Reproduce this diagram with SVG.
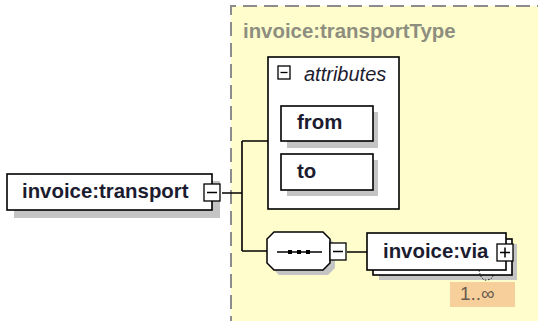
<svg xmlns="http://www.w3.org/2000/svg" width="538" height="321" viewBox="0 0 538 321">
<style>
.box{fill:#fff;stroke:#000;stroke-width:1.6}
.shadow{fill:#c4c4c4}
.lbl{font-family:"Liberation Sans",Arial,sans-serif;font-weight:bold;font-size:20.4px;fill:#1c1c30}
.icon{fill:#fff;stroke:#000;stroke-width:1.3}
.conn{fill:none;stroke:#000;stroke-width:1.6}
</style>
<rect x="231" y="6" width="320" height="330" fill="#fefdcb"/>
<path d="M231 330 V6 H540" fill="none" stroke="#8c8c8c" stroke-width="2" stroke-dasharray="14 7"/>
<text x="243" y="38" font-family="'Liberation Sans',Arial,sans-serif" font-weight="bold" font-size="20.4px" fill="#8e8e80">invoice:transportType</text>

<g id="connectors">
<path class="conn" d="M222 193 H242 M242 141 V251 M242 141 H268 M242 251 H268 M347 252 H367"/>
</g>

<g id="node-transport">
<rect class="shadow" x="14" y="181" width="206" height="37"/>
<rect class="box" x="7" y="174" width="205" height="36"/>
<text class="lbl" x="22" y="198">invoice:transport</text>
<rect class="icon" x="204" y="184" width="16" height="17"/>
<path d="M207 192.5 H217" stroke="#000" stroke-width="1.5"/>
</g>

<g id="node-attributes">
<rect class="box" x="268" y="57" width="131" height="152"/>
<rect class="icon" x="278" y="66" width="12" height="13"/>
<path d="M280.5 72.5 H287.5" stroke="#000" stroke-width="1.3"/>
<text x="304" y="81" font-family="'Liberation Sans',Arial,sans-serif" font-style="italic" font-size="20px" fill="#1c1c30">attributes</text>
</g>

<g id="node-from">
<rect class="shadow" x="287" y="112" width="91" height="36"/>
<rect class="box" x="281" y="106" width="92" height="35"/>
<text class="lbl" x="297" y="129">from</text>
</g>

<g id="node-to">
<rect class="shadow" x="287" y="160" width="91" height="36"/>
<rect class="box" x="281" y="154" width="92" height="36"/>
<text class="lbl" x="297" y="178">to</text>
</g>

<g id="node-sequence">
<path class="shadow" d="M279 237 H328 L335 244 V268 L328 275 H279 L272 268 V244 Z"/>
<path d="M274 232 H323 L330 239 V263 L323 270 H274 L267 263 V239 Z" fill="#fff" stroke="#000" stroke-width="1.5"/>
<path d="M277 252 H322" stroke="#000" stroke-width="1.5"/>
<rect x="288" y="250" width="4" height="4" fill="#000"/>
<rect x="297" y="250" width="4" height="4" fill="#000"/>
<rect x="306" y="250" width="4" height="4" fill="#000"/>
<rect class="icon" x="330" y="243" width="16" height="17"/>
<path d="M333 251.5 H343" stroke="#000" stroke-width="1.5"/>
</g>

<g id="node-via">
<rect class="shadow" x="379" y="244" width="138" height="36"/>
<rect class="box" x="373" y="239" width="139" height="36"/>
<rect class="box" x="367" y="233" width="139" height="37"/>
<text class="lbl" x="383" y="258">invoice:via</text>
<rect class="icon" x="497" y="244" width="16" height="17"/>
<path d="M500 252.5 H510 M505 247.5 V257.5" stroke="#000" stroke-width="1.5"/>
<path d="M479 270 Q481 281 487 280 Q493 279 493 275" fill="none" stroke="#000" stroke-width="1" stroke-dasharray="1.5 1.5"/>
<rect x="450" y="282" width="65" height="25" fill="#f6cf9a"/>
<text x="460" y="300" font-family="'Liberation Sans',Arial,sans-serif" font-size="19px" fill="#6a5a50">1..∞</text>
</g>
</svg>
